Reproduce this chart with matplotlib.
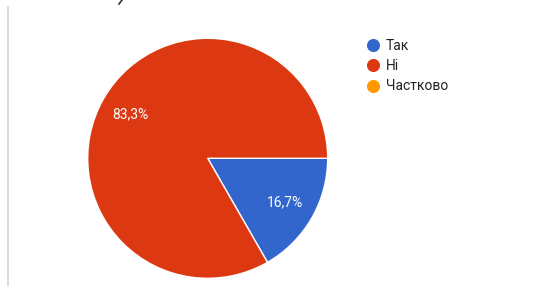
import matplotlib
matplotlib.use("Agg")
import matplotlib.pyplot as plt
from matplotlib.lines import Line2D

plt.rcParams["font.family"] = ["Roboto", "Liberation Sans", "DejaVu Sans"]

# data
labels = ["Так", "Ні", "Частково"]
values = [16.7, 83.3, 0.0]
colors = ["#3366cc", "#dc3912", "#ff9900"]

W, H = 546, 286
fig = plt.figure(figsize=(W / 100, H / 100), dpi=100)
fig.patch.set_facecolor("white")

# pie: centre ~ (208, 158) px, radius ~120 px
cx, cy, r = 207.7, 158.3, 120
ax = fig.add_axes([(cx - r) / W, (H - cy - r) / H, 2 * r / W, 2 * r / H])

shown = [(v, c) for v, c in zip(values, colors) if v > 0]
wedges, texts, autotexts = ax.pie(
    [v for v, _ in shown],
    colors=[c for _, c in shown],
    startangle=0, counterclock=False,
    autopct=lambda p: f"{p:.1f}%".replace(".", ","),
    pctdistance=0.74,
    wedgeprops={"edgecolor": "white", "linewidth": 1.0},
    textprops={"color": "white", "fontsize": 10},
    radius=1.0,
)
ax.set_xlim(-1, 1)
ax.set_ylim(-1, 1)

# legend
handles = [Line2D([0], [0], marker="o", linestyle="none", markersize=8.4,
                  markerfacecolor=c, markeredgecolor=c) for c in colors]
fig.legend(handles, labels, loc="upper left",
           bbox_to_anchor=(366 / W, 1 - 39 / H), frameon=False,
           fontsize=10, handlelength=1.0, handletextpad=0.45,
           labelspacing=0.45, borderaxespad=0, borderpad=0,
           labelcolor="#222222")

# left frame line and top scan artefact
fig.add_artist(Line2D([7.5 / W, 7.5 / W], [0, 1 - 7 / H], transform=fig.transFigure,
                      color="#dcdcdc", linewidth=1.5))
fig.add_artist(Line2D([119 / W, 122 / W], [1 - 4 / H, 1.0], transform=fig.transFigure,
                      color="#333333", linewidth=1.2))

fig.savefig("out.png", dpi=100, facecolor="white")
